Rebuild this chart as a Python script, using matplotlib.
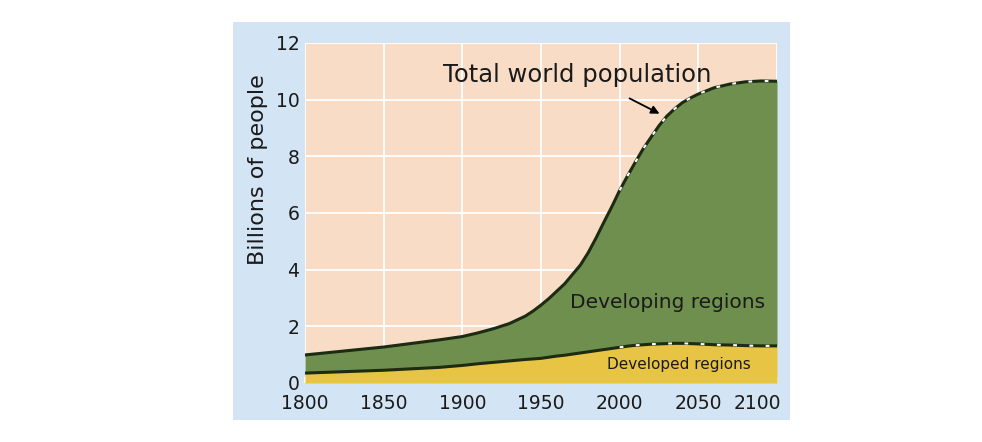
import matplotlib
matplotlib.use("Agg")
import matplotlib.pyplot as plt
import matplotlib.transforms as mtransforms
from matplotlib.patches import Rectangle

# values (billions of people)
years = [1800, 1850, 1885, 1900, 1910, 1920, 1930, 1940, 1945, 1950, 1955, 1960,
         1965, 1970, 1975, 1980, 1985, 1990, 1995, 2000, 2005, 2010, 2015, 2020,
         2025, 2030, 2035, 2040, 2045, 2050, 2060, 2070, 2080, 2090, 2100]
total = [0.99, 1.27, 1.52, 1.64, 1.77, 1.92, 2.10, 2.36, 2.54, 2.75, 2.98, 3.24,
         3.50, 3.83, 4.16, 4.60, 5.12, 5.68, 6.22, 6.80, 7.31, 7.80, 8.27, 8.68,
         9.08, 9.42, 9.68, 9.90, 10.06, 10.20, 10.42, 10.55, 10.63, 10.66, 10.65]
developed = [0.35, 0.45, 0.55, 0.62, 0.68, 0.73, 0.78, 0.83, 0.85, 0.87, 0.91, 0.95,
             0.98, 1.02, 1.06, 1.10, 1.14, 1.18, 1.22, 1.26, 1.30, 1.33, 1.35, 1.37,
             1.38, 1.39, 1.40, 1.40, 1.39, 1.38, 1.35, 1.34, 1.32, 1.31, 1.31]
projection_start = 2000

xticks = [1800, 1850, 1900, 1950, 2000, 2050, 2100]
yticks = [0, 2, 4, 6, 8, 10, 12]

blue_bg = "#d3e4f5"
peach = "#f8dcc6"
green = "#6e8f4e"
yellow = "#e8c445"
line_dark = "#1c2b12"
text_dark = "#1a1a1a"

W, H = 982, 442
fig = plt.figure(figsize=(W / 100, H / 100), dpi=100)
fig.patch.set_facecolor("white")

# light blue panel behind the chart
fig.patches.append(Rectangle((233 / W, 1 - 420 / H), (790 - 233) / W, (420 - 22) / H,
                             transform=fig.transFigure, facecolor=blue_bg,
                             edgecolor="none", zorder=-10))

ax = fig.add_axes([305 / W, 1 - 383 / H, (777 - 305) / W, (383 - 43) / H])
ax.set_facecolor(peach)
ax.set_xlim(1800, 2100)
ax.set_ylim(0, 12)

ax.set_xticks(xticks)
ax.set_yticks(yticks)
ax.grid(True, color="white", linewidth=1.3)
ax.set_axisbelow(True)
for s in ax.spines.values():
    s.set_visible(False)

ax.fill_between(years, 0, developed, color=yellow, linewidth=0, zorder=2)
ax.fill_between(years, developed, total, color=green, linewidth=0, zorder=2)

ax.plot(years, total, color=line_dark, linewidth=2.2, zorder=3)
ax.plot(years, developed, color=line_dark, linewidth=2.2, zorder=3)

# projected part: white dashes over the dark lines
i0 = years.index(projection_start)
ax.plot(years[i0:], total[i0:], color="white", linewidth=1.5,
        dashes=(1.8, 6), zorder=4)
ax.plot(years[i0:], developed[i0:], color="white", linewidth=1.5,
        dashes=(1.8, 6), zorder=4)

ax.tick_params(axis="x", direction="in", length=4, width=1.2, color="white",
               labelsize=13.5, labelcolor=text_dark, pad=8)
ax.tick_params(axis="y", length=0, labelsize=13.5, labelcolor=text_dark, pad=4)

# last x label sits inside the panel
last = ax.get_xticklabels()[-1]
last.set_transform(last.get_transform() +
                   mtransforms.ScaledTranslation(-20 / 100, 0, fig.dpi_scale_trans))

fig.text(258 / W, 1 - 170 / H, "Billions of people", rotation=90,
         ha="center", va="center", fontsize=16, color=text_dark)

ax.text(1887.7, 10.63, "Total world population", fontsize=17.5,
        color=text_dark, ha="left", va="baseline", zorder=5)
ax.annotate("", xy=(2026.9, 9.46), xytext=(2004.7, 10.09),
            arrowprops=dict(arrowstyle="-|>", color="black", lw=1.3,
                            mutation_scale=12), zorder=5)
ax.text(1968.4, 2.64, "Developing regions", fontsize=14.5,
        color=text_dark, ha="left", va="baseline", zorder=5)
ax.text(1992, 0.48, "Developed regions", fontsize=11,
        color=text_dark, ha="left", va="baseline", zorder=5)

fig.savefig("out.png", dpi=100)
